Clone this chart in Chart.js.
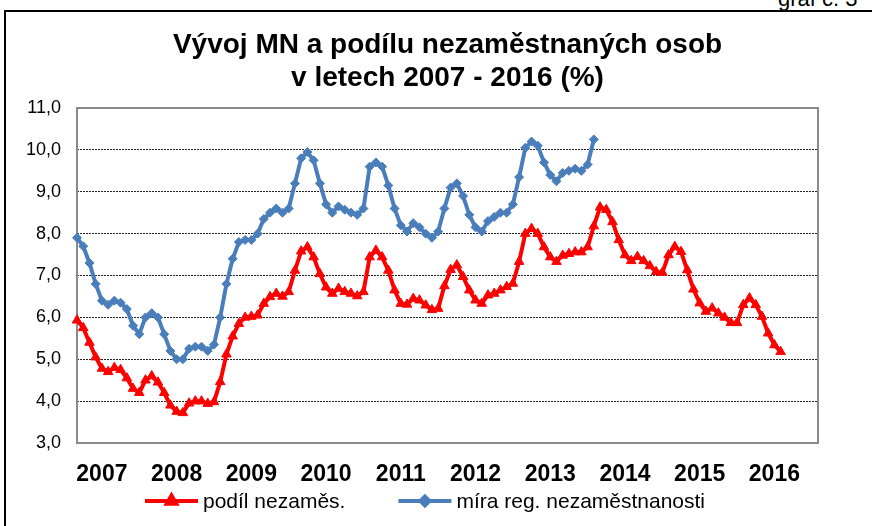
<!DOCTYPE html>
<html><head><meta charset="utf-8">
<script src="https://cdn.jsdelivr.net/npm/chart.js@4.4.1/dist/chart.umd.min.js"></script>
<style>
html,body{margin:0;padding:0;background:#fff;overflow:hidden;width:872px;height:526px;position:relative;}
#frame{position:absolute;left:4px;top:10px;width:1000px;height:1000px;border:2px solid #000;box-sizing:border-box;}
#graf{position:absolute;left:778px;top:-12px;font:22px "Liberation Sans",Arial,sans-serif;line-height:22px;color:#000;white-space:nowrap;}
#c{position:absolute;left:0;top:0;}
</style></head><body>
<div id="frame"></div>
<div id="graf">graf č. 3</div>
<canvas id="c" width="872" height="526"></canvas>
<script>
const years = ['2007','2008','2009','2010','2011','2012','2013','2014','2015','2016'];
const months = ['01','02','03','04','05','06','07','08','09','10','11','12'];
const yTicks = [3,4,5,6,7,8,9,10,11];

// míra registrované nezaměstnanosti (I/2007 - XII/2013)
const miraRegNezam = [
  7.9, 7.7, 7.3, 6.8, 6.4, 6.3, 6.4, 6.35, 6.2, 5.8, 5.6, 6.0,
  6.1, 6.0, 5.6, 5.2, 5.0, 5.0, 5.25, 5.3, 5.3, 5.2, 5.35, 6.0,
  6.8, 7.4, 7.8, 7.85, 7.85, 8.0, 8.35, 8.5, 8.6, 8.5, 8.6, 9.2,
  9.8, 9.95, 9.75, 9.2, 8.7, 8.5, 8.65, 8.57, 8.5, 8.45, 8.6, 9.6,
  9.7, 9.6, 9.15, 8.6, 8.2, 8.05, 8.25, 8.15, 8.0, 7.9, 8.05, 8.6,
  9.1, 9.2, 8.9, 8.45, 8.15, 8.05, 8.3, 8.4, 8.5, 8.5, 8.7, 9.35,
  10.05, 10.2, 10.1, 9.7, 9.4, 9.25, 9.45, 9.5, 9.55, 9.5, 9.65, 10.25
];

// podíl nezaměstnaných osob (I/2007 - VI/2016)
const podilNezam = [
  5.93, 5.75, 5.4, 5.05, 4.78, 4.7, 4.8, 4.75, 4.55, 4.3, 4.2, 4.5,
  4.6, 4.45, 4.2, 3.9, 3.75, 3.72, 3.95, 4.0, 4.0, 3.94, 3.98, 4.46,
  5.12, 5.55, 5.85, 6.0, 6.02, 6.05, 6.33, 6.49, 6.57, 6.5, 6.61, 7.12,
  7.58, 7.68, 7.44, 7.04, 6.72, 6.57, 6.69, 6.61, 6.57, 6.51, 6.61, 7.44,
  7.6, 7.44, 7.12, 6.65, 6.33, 6.31, 6.45, 6.41, 6.29, 6.18, 6.21, 6.75,
  7.14, 7.25, 6.97, 6.65, 6.41, 6.33, 6.53, 6.57, 6.65, 6.73, 6.81, 7.33,
  8.0, 8.12, 8.0, 7.68, 7.44, 7.33, 7.48, 7.52, 7.56, 7.56, 7.68, 8.18,
  8.63, 8.57, 8.28, 7.85, 7.49, 7.35, 7.45, 7.35, 7.23, 7.09, 7.07, 7.49,
  7.69, 7.57, 7.13, 6.67, 6.34, 6.14, 6.22, 6.10, 6.0, 5.87, 5.87, 6.3,
  6.46, 6.3, 6.02, 5.62, 5.34, 5.18
];

const labels = years.flatMap(y => months.map(m => y + '-' + m));
const FONT = '"Liberation Sans", Arial, sans-serif';
const RED = '#FF0000';
const BLUE = '#4A7EBB';

const seriesLegend = [
  {text: 'podíl nezaměs.', color: RED, pointStyle: 'triangle', radius: 5.5},
  {text: 'míra reg. nezaměstnanosti', color: BLUE, pointStyle: 'rectRot', radius: 4.5}
];

const framePlugin = {
  id: 'framePlugin',
  beforeDatasetsDraw(chart) {
    const {ctx, chartArea: a} = chart;
    ctx.save();
    ctx.strokeStyle = '#8a8a8a';
    ctx.lineWidth = 2;
    ctx.strokeRect(a.left, a.top, a.right - a.left, a.bottom - a.top);
    ctx.restore();
  },
  afterDraw(chart) {
    const {ctx} = chart;
    ctx.save();
    ctx.font = '21px ' + FONT;
    ctx.textBaseline = 'middle';
    const y = 501;
    let x = 145;
    seriesLegend.forEach((it) => {
      ctx.strokeStyle = it.color;
      ctx.fillStyle = it.color;
      ctx.lineWidth = 4;
      ctx.beginPath();
      ctx.moveTo(x, y);
      ctx.lineTo(x + 53, y);
      ctx.stroke();
      Chart.helpers.drawPoint(ctx, {pointStyle: it.pointStyle, radius: it.radius, rotation: 0, borderWidth: 1}, x + 26.5, y);
      ctx.fillStyle = '#000';
      ctx.fillText(it.text, x + 58, y + 1);
      x = x + 58 + ctx.measureText(it.text).width + 53;
    });
    ctx.restore();
  }
};

new Chart(document.getElementById('c'), {
  type: 'line',
  data: {
    labels: labels,
    datasets: [
      {
        label: 'podíl nezaměs.',
        data: podilNezam,
        borderColor: RED,
        backgroundColor: RED,
        borderWidth: 4,
        pointStyle: 'triangle',
        pointRadius: 5.5,
        pointBorderWidth: 1,
        pointBorderColor: RED,
        pointBackgroundColor: RED,
        tension: 0,
        clip: false
      },
      {
        label: 'míra reg. nezaměstnanosti',
        data: miraRegNezam,
        borderColor: BLUE,
        backgroundColor: BLUE,
        borderWidth: 4,
        pointStyle: 'rectRot',
        pointRadius: 4.5,
        pointBorderWidth: 1,
        pointBorderColor: BLUE,
        pointBackgroundColor: BLUE,
        tension: 0,
        clip: false
      }
    ]
  },
  options: {
    responsive: false,
    animation: false,
    devicePixelRatio: 1,
    layout: {padding: {left: 0, right: 54, top: 28, bottom: 0}},
    plugins: {
      legend: {display: false},
      tooltip: {enabled: false},
      title: {
        display: true,
        fullSize: false,
        text: ['Vývoj MN a podílu nezaměstnaných osob', 'v letech 2007 - 2016 (%)'],
        color: '#000',
        font: {family: FONT, size: 28, weight: 'bold', lineHeight: 1.2},
        padding: {top: 0, bottom: 12.8}
      }
    },
    scales: {
      x: {
        type: 'category',
        grid: {display: false, drawTicks: false},
        border: {display: false},
        afterFit(s) { s.height = 83; },
        ticks: {
          autoSkip: false,
          maxRotation: 0,
          minRotation: 0,
          padding: 18,
          color: '#000',
          font: {family: FONT, size: 23, weight: 'bold'},
          callback: (v, i) => (i % 12 === 4 ? years[Math.floor(i / 12)] : '')
        }
      },
      y: {
        min: yTicks[0],
        max: yTicks[yTicks.length - 1],
        afterFit(s) { s.width = 77; },
        afterBuildTicks(s) { s.ticks = yTicks.map(v => ({value: v})); },
        grid: {
          drawTicks: false,
          color: ctx => (ctx.tick && (ctx.tick.value === yTicks[0] || ctx.tick.value === yTicks[yTicks.length - 1])) ? 'rgba(0,0,0,0)' : '#222',
          lineWidth: 1
        },
        border: {display: false, dash: [2, 1]},
        ticks: {
          padding: 16,
          color: '#000',
          font: {family: FONT, size: 18},
          callback: v => v.toFixed(1).replace('.', ',')
        }
      }
    }
  },
  plugins: [framePlugin]
});
</script>
</body></html>
